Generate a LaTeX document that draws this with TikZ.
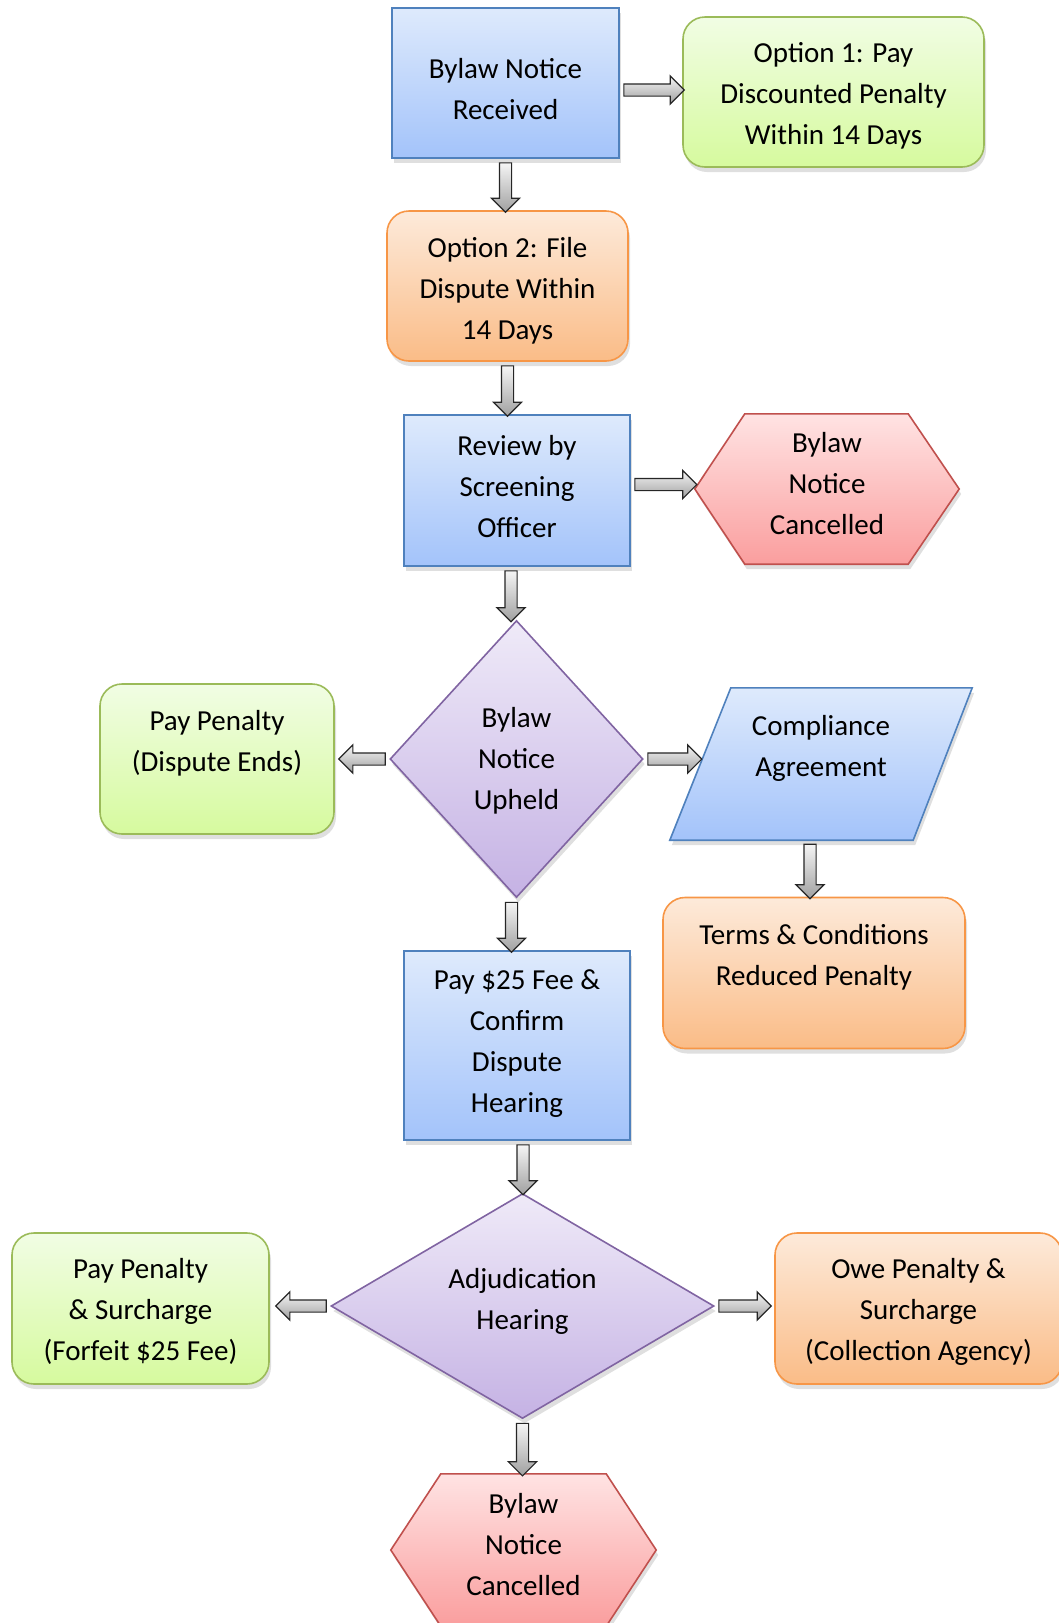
\documentclass[tikz,border=0pt]{standalone}
\usepackage{fontspec}
\setmainfont{Carlito}
\usetikzlibrary{shapes.geometric,shapes.arrows,shadows,calc,backgrounds}
\definecolor{bluetop}{RGB}{222,234,252}
\definecolor{bluebot}{RGB}{163,195,250}
\definecolor{blueline}{RGB}{79,129,189}
\definecolor{greentop}{RGB}{241,253,228}
\definecolor{greenbot}{RGB}{214,250,158}
\definecolor{greenline}{RGB}{155,187,89}
\definecolor{orangetop}{RGB}{253,234,218}
\definecolor{orangebot}{RGB}{250,188,135}
\definecolor{orangeline}{RGB}{247,150,70}
\definecolor{redtop}{RGB}{255,227,227}
\definecolor{redbot}{RGB}{250,158,158}
\definecolor{redline}{RGB}{192,80,77}
\definecolor{purpletop}{RGB}{239,234,248}
\definecolor{purplebot}{RGB}{197,178,228}
\definecolor{purpleline}{RGB}{128,100,162}
\definecolor{arrtop}{RGB}{245,245,245}
\definecolor{arrbot}{RGB}{160,160,160}
\tikzset{
  shad/.style={drop shadow={shadow xshift=2pt, shadow yshift=-5pt, opacity=0.25}},
  txt/.style={align=center, font=\fontsize{29}{41}\selectfont, inner sep=0pt, text=black},
  base/.style={inner sep=0pt, line width=1.6pt, shad},
  bluebox/.style={base, rectangle, draw=blueline, top color=bluetop, bottom color=bluebot},
  greenbox/.style={base, rectangle, rounded corners=22pt, draw=greenline, top color=greentop, bottom color=greenbot},
  orangebox/.style={base, rectangle, rounded corners=22pt, draw=orangeline, top color=orangetop, bottom color=orangebot},
  purplediam/.style={base, diamond, draw=purpleline, top color=purpletop, bottom color=purplebot},
  ghost/.style={rectangle, inner sep=0pt},
  redhex/.style={line width=1.6pt, draw=redline, top color=redtop, bottom color=redbot, shad},
  bluepar/.style={line width=1.6pt, draw=blueline, top color=bluetop, bottom color=bluebot, shad},
  barrow/.style={single arrow, draw=black!85, line width=1.2pt, top color=arrtop, bottom color=arrbot,
    text height=0pt, text depth=0pt, text width=0pt, inner xsep=0pt, inner ysep=5.5pt,
    single arrow head extend=8pt, single arrow tip angle=90, single arrow head indent=0pt,
    sloped, allow upside down, anchor=center}
}
\newcommand{\blk}[2]{\path let \p1=#1, \p2=#2, \n1={veclen(\x2-\x1,\y2-\y1)-2} in #1 -- #2 node[midway, barrow, minimum height=\n1] {};}
\begin{document}
\begin{tikzpicture}[x=1pt,y=1pt]
\useasboundingbox (0,0) rectangle (1058,-1623);
% shapes
\node[bluebox, minimum width=227pt, minimum height=150pt] (A) at (505.5,-83) {};
\node[greenbox, minimum width=301pt, minimum height=150pt] (B) at (833.5,-92) {};
\node[orangebox, minimum width=241pt, minimum height=150pt] (C) at (507.5,-286) {};
\node[bluebox, minimum width=226pt, minimum height=151pt] (D) at (517,-490.5) {};
\node[ghost, minimum width=264pt, minimum height=150pt] (E) at (827,-489) {};
\node[purplediam, minimum width=253pt, minimum height=277pt] (F) at (516.5,-759) {};
\node[greenbox, minimum width=234pt, minimum height=150pt] (G) at (217,-759) {};
\node[ghost, minimum width=302pt, minimum height=152pt] (H) at (821,-764) {};
\node[orangebox, minimum width=302pt, minimum height=151pt] (I) at (814,-973) {};
\node[bluebox, minimum width=226pt, minimum height=189pt] (J) at (517,-1045.5) {};
\node[purplediam, minimum width=383pt, minimum height=225pt] (K) at (522.5,-1306) {};
\node[greenbox, minimum width=257pt, minimum height=151pt] (L) at (140.5,-1308.5) {};
\node[orangebox, minimum width=287pt, minimum height=151pt] (M) at (918.5,-1308.5) {};
\node[ghost, minimum width=265pt, minimum height=152pt] (N) at (523.5,-1550) {};
\begin{scope}[on background layer]
\path[redhex] (E.west) -- ($(E.north west)+(50,0)$) -- ($(E.north east)+(-51,0)$) -- (E.east) -- ($(E.south east)+(-51,0)$) -- ($(E.south west)+(50,0)$) -- cycle;
\path[redhex] (N.west) -- ($(N.north west)+(50,0)$) -- ($(N.north east)+(-50,0)$) -- (N.east) -- ($(N.south east)+(-50,0)$) -- ($(N.south west)+(50,0)$) -- cycle;
\path[bluepar] (H.south west) -- ($(H.north west)+(61,0)$) -- (H.north east) -- ($(H.south east)+(-59,0)$) -- cycle;
\end{scope}
% texts
\node[txt] (At) at ($(A)+(0,-6)$) {Bylaw Notice\\Received};
\node[txt] (Bt) at ($(B)+(0,-4)$) {Option 1: Pay\\Discounted Penalty\\Within 14 Days};
\node[txt] (Ct) at ($(C)+(0,-5)$) {Option 2: File\\Dispute Within\\14 Days};
\node[txt] (Dt) at ($(D)+(0,4)$) {Review by\\Screening\\Officer};
\node[txt] (Et) at ($(E)+(0,5)$) {Bylaw\\Notice\\Cancelled};
\node[txt] (Ft) at ($(F)+(0,-2)$) {Bylaw\\Notice\\Upheld};
\node[txt] (Gt) at ($(G)+(0,16)$) {Pay Penalty\\(Dispute Ends)};
\node[txt] (Ht) at ($(H)+(0,16)$) {Compliance\\Agreement};
\node[txt] (It) at ($(I)+(0,16)$) {Terms \& Conditions\\Reduced Penalty};
\node[txt] (Jt) at ($(J)+(0,1.5)$) {Pay \$25 Fee \&\\Confirm\\Dispute\\Hearing};
\node[txt] (Kt) at ($(K)+(0,5)$) {Adjudication\\Hearing};
\node[txt] (Lt) at ($(L)+(0,-3)$) {Pay Penalty\\\& Surcharge\\(Forfeit \$25 Fee)};
\node[txt] (Mt) at ($(M)+(0,-3)$) {Owe Penalty \&\\Surcharge\\(Collection Agency)};
\node[txt] (Nt) at ($(N)+(0,5)$) {Bylaw\\Notice\\Cancelled};
% connectors
\blk{($(A.east)+(0,-7)$)}{($(A.east -| B.west)+(0,-7)$)}
\blk{(A.south)}{(A.south |- C.north)}
\blk{(C.south)}{(C.south |- D.north)}
\blk{($(D.east)+(0,6)$)}{($(D.east -| E.west)+(0,6)$)}
\blk{($(D.south)+(-6,0)$)}{($(D.south |- F.north)+(-6,0)$)}
\blk{(F.west)}{($(F.west -| G.east)+(6,0)$)}
\blk{(F.east)}{($(F.east -| H.west)+(30,0)$)}
\blk{($(H.south)+(-11,0)$)}{($(H.south |- I.north)+(-11,0)$)}
\blk{($(F.south)+(-5,0)$)}{($(F.south |- J.north)+(-5,0)$)}
\blk{($(J.south)+(6,0)$)}{($(J.south |- K.north)+(6,0)$)}
\blk{(K.west)}{($(K.west -| L.east)+(8,0)$)}
\blk{(K.east)}{($(K.east -| M.west)+(-5,0)$)}
\blk{(K.south)}{(K.south |- N.north)}
\end{tikzpicture}
\end{document}
